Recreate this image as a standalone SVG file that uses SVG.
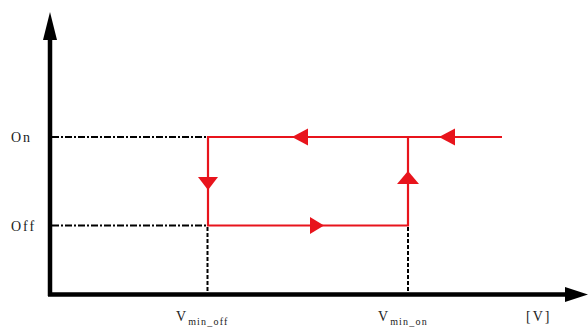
<svg xmlns="http://www.w3.org/2000/svg" width="588" height="327" viewBox="0 0 588 327">
<style>
.axis{stroke:#000;stroke-width:4.5;fill:none}
.guide{stroke:#000;stroke-width:2;fill:none;stroke-dasharray:7 2 2 2}
.vguide{stroke:#000;stroke-width:2;fill:none;stroke-dasharray:4 2}
.loop{stroke:#e8141c;stroke-width:2.2;fill:none}
.head{fill:#e8141c}
.lbl{font-family:"Liberation Serif","Times New Roman",serif;font-size:14px;fill:#222;letter-spacing:2px}
.sub{font-family:"Liberation Serif","Times New Roman",serif;font-size:10px;fill:#222;letter-spacing:1.2px}
</style>
<rect width="588" height="327" fill="#fff"/>
<g id="connectors">
<line class="axis" x1="50" y1="36" x2="50" y2="296"/>
<polygon points="50,12 43,40 57,40" fill="#000"/>
<line class="axis" x1="48" y1="294.5" x2="568" y2="294.5"/>
<polygon points="588,294.5 565,287 565,302" fill="#000"/>
<line class="guide" x1="52" y1="137" x2="207" y2="137"/>
<line class="guide" x1="52" y1="225.5" x2="207" y2="225.5"/>
<line class="vguide" x1="207.5" y1="227" x2="207.5" y2="292"/>
<line class="vguide" x1="408" y1="227" x2="408" y2="292"/>
<polyline class="loop" points="502,137 208,137 208,225.5 408,225.5 408,137"/>
<polygon class="head" points="292,137 308,128.5 308,145.5"/>
<polygon class="head" points="439,137 455,128.5 455,145.5"/>
<polygon class="head" points="208,190 198,177 218,177"/>
<polygon class="head" points="408,171 397,184 419,184"/>
<polygon class="head" points="324,225.5 310,217 310,234"/>
</g>
<g id="label-on"><text class="lbl" x="11" y="142">On</text></g>
<g id="label-off"><text class="lbl" x="11" y="231">Off</text></g>
<g id="label-vminoff"><text class="lbl" x="176" y="321">V<tspan class="sub" dy="4" dx="0">min_off</tspan></text></g>
<g id="label-vminon"><text class="lbl" x="378" y="321">V<tspan class="sub" dy="4" dx="0">min_on</tspan></text></g>
<g id="label-v"><text class="lbl" x="526" y="321">[V]</text></g>
</svg>
